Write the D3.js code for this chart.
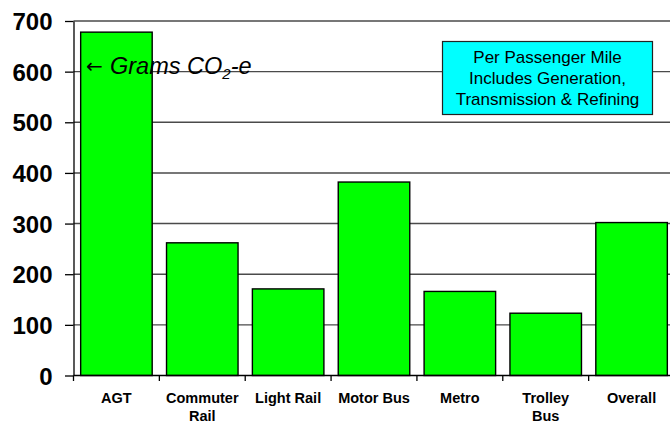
<!DOCTYPE html>
<html>
<head>
<meta charset="utf-8">
<script src="https://cdn.jsdelivr.net/npm/d3@7"></script>
<style>
  html, body { margin: 0; padding: 0; background: #fff; }
  svg { display: block; font-family: "Liberation Sans", Arial, sans-serif; }
</style>
</head>
<body>
<svg id="chart" width="670" height="426"></svg>
<script>
const categories = ["AGT", "Commuter\nRail", "Light Rail", "Motor Bus", "Metro", "Trolley\nBus", "Overall"];
const values = [678, 262, 171, 382, 166, 123, 302];
const yTicks = [0, 100, 200, 300, 400, 500, 600, 700];
const noteLines = ["Per Passenger Mile", "Includes Generation,", "Transmission & Refining"];

const svg = d3.select("#chart");
const mLeft = 73.5, mRight = 674.5, mTop = 21, mBottom = 375.5;

const x = d3.scaleBand().domain(categories).range([mLeft, mRight]).paddingInner(0.167).paddingOuter(0.0835);
const y = d3.scaleLinear().domain([0, 700]).range([mBottom, mTop]);

// gridlines
svg.append("g").selectAll("line").data(yTicks.filter(d => d > 0)).join("line")
  .attr("x1", mLeft).attr("x2", 670)
  .attr("y1", d => y(d)).attr("y2", d => y(d))
  .attr("stroke", "#4a4a4a").attr("stroke-width", 1.4);

// bars
svg.append("g").selectAll("rect").data(values).join("rect")
  .attr("x", (d, i) => x(categories[i]))
  .attr("y", d => y(d))
  .attr("width", x.bandwidth())
  .attr("height", d => y(0) - y(d))
  .attr("fill", "#00ff00")
  .attr("stroke", "#000")
  .attr("stroke-width", 1.4);

// y axis
const yAxis = d3.axisLeft(y).tickValues(yTicks).tickSize(8.5).tickPadding(12.5).tickSizeOuter(0);
const ga = svg.append("g").attr("transform", `translate(${mLeft},0)`).call(yAxis);
ga.select(".domain").attr("stroke", "#000").attr("stroke-width", 1.3);
ga.selectAll(".tick line").attr("stroke", "#000").attr("stroke-width", 1.3);
ga.selectAll(".tick text").attr("font-size", 24).attr("font-weight", "bold")
  .attr("fill", "#000").attr("font-family", "'Liberation Sans', Arial, sans-serif").attr("dy", "0.36em");

// x axis baseline
svg.append("line").attr("x1", mLeft).attr("x2", 670).attr("y1", y(0)).attr("y2", y(0))
  .attr("stroke", "#000").attr("stroke-width", 1.4);

// x tick marks at band boundaries
const bounds = d3.range(categories.length + 1).map(i => mLeft + i * x.step());
svg.append("g").selectAll("line").data(bounds).join("line")
  .attr("x1", d => d).attr("x2", d => d)
  .attr("y1", y(0)).attr("y2", y(0) + 5.5)
  .attr("stroke", "#000").attr("stroke-width", 1.3);

// category labels
const lab = svg.append("g").selectAll("text").data(categories).join("text")
  .attr("x", d => x(d) + x.bandwidth() / 2)
  .attr("y", 403)
  .attr("text-anchor", "middle")
  .attr("font-size", 14.5).attr("font-weight", "bold").attr("fill", "#000");
lab.each(function(d) {
  const t = d3.select(this);
  d.split("\n").forEach((s, i) => {
    t.append("tspan").attr("x", x(d) + x.bandwidth() / 2).attr("dy", i === 0 ? 0 : 18).text(s);
  });
});

// annotation
const ann = svg.append("text").attr("x", 86).attr("y", 73.5)
  .attr("font-size", 23.5).attr("font-style", "italic").attr("fill", "#000");
ann.append("tspan").attr("font-family", "'DejaVu Sans', sans-serif").attr("font-style", "normal")
  .attr("font-size", 20).attr("dy", -1).text("\u2190");
ann.append("tspan").attr("x", 110).attr("dy", 1).text("Grams CO");
ann.append("tspan").attr("font-size", 15).attr("dy", 5).text("2");
ann.append("tspan").attr("dy", -5).text("-e");

// note box
svg.append("rect").attr("x", 442.5).attr("y", 41.5).attr("width", 210).attr("height", 73)
  .attr("fill", "#00ffff").attr("stroke", "#222").attr("stroke-width", 1.2);
svg.append("g").selectAll("text").data(noteLines).join("text")
  .attr("x", 547.5).attr("y", (d, i) => 62.5 + i * 21)
  .attr("text-anchor", "middle").attr("font-size", 17).attr("fill", "#000")
  .text(d => d);
</script>
</body>
</html>
